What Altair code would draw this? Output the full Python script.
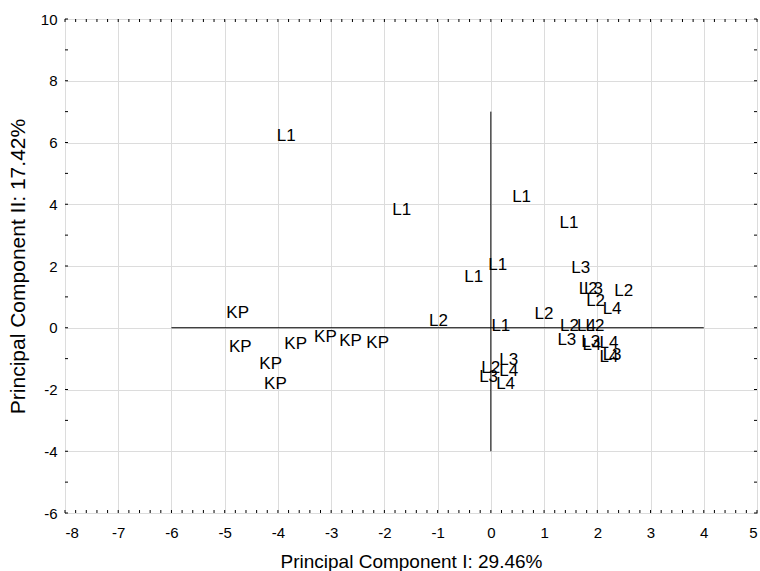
import altair as alt
import pandas as pd
import numpy as np

labels = ["KP"] * 8 + ["L1"] * 7 + ["L2"] * 8 + ["L3"] * 7 + ["L4"] * 7
xs = [-4.97, -4.92, -3.88, -3.32, -2.85, -2.34, -4.35, -4.26,
      -4.02, -1.85, 0.40, 1.29, -0.05, -0.50, 0.01,
      1.65, 2.32, 1.79, 0.82, 1.30, 1.78, -1.16, -0.18,
      1.51, 1.75, 1.25, 1.70, 2.10, 0.16, -0.22,
      2.10, 1.62, 1.72, 2.04, 2.04, 0.16, 0.10]
ys = [0.48, -0.61, -0.54, -0.29, -0.42, -0.48, -1.19, -1.83,
      6.20, 3.80, 4.22, 3.39, 2.03, 1.64, 0.06,
      1.26, 1.20, 0.87, 0.45, 0.05, 0.05, 0.22, -1.30,
      1.93, 1.26, -0.39, -0.46, -0.87, -1.05, -1.60,
      0.61, 0.05, -0.56, -0.51, -0.95, -1.40, -1.83]

x_major = list(range(-8, 6))
y_major = list(range(-6, 11, 2))
x_minor = [round(v, 1) for v in np.arange(-8, 5.01, 0.2)]
y_minor = list(range(-6, 11))

W, H = 692, 494
FONT = "Liberation Sans"

xs_scale = alt.Scale(domain=[-8, 5], nice=False, zero=False)
ys_scale = alt.Scale(domain=[-6, 10], nice=False, zero=False)

pts = pd.DataFrame({"label": labels, "x": xs, "y": ys})

base_axes = alt.Chart(pts).mark_point(opacity=0).encode(
    x=alt.X("x:Q", scale=xs_scale,
            axis=alt.Axis(values=x_major, title="Principal Component I: 29.46%",
                          labelExpr="'' + datum.value",
                          grid=True, gridColor="#dcdcdc", domain=False, ticks=False,
                          labelFont=FONT, labelFontSize=15, labelColor="black",
                          labelPadding=12, titleFont=FONT, titleFontSize=19,
                          titleFontWeight="normal", titleColor="black",
                          titleBaseline="middle", titleY=48)),
    y=alt.Y("y:Q", scale=ys_scale,
            axis=alt.Axis(values=y_major, title="Principal Component II: 17.42%",
                          labelExpr="'' + datum.value",
                          grid=True, gridColor="#dcdcdc", domain=False, ticks=False,
                          labelFont=FONT, labelFontSize=15, labelColor="black",
                          labelPadding=8, titleFont=FONT, titleFontSize=21,
                          titleFontWeight="normal", titleColor="black",
                          titleBaseline="middle", titleX=-47)),
)

text = alt.Chart(pts).mark_text(align="left", baseline="middle", font=FONT,
                                fontSize=17, color="black").encode(
    x=alt.X("x:Q", scale=xs_scale), y=alt.Y("y:Q", scale=ys_scale), text="label:N")

hline = alt.Chart(pd.DataFrame({"x": [-6], "x2": [4], "y": [0]})).mark_rule(
    color="black", strokeWidth=1).encode(
    x=alt.X("x:Q", scale=xs_scale), x2="x2:Q", y=alt.Y("y:Q", scale=ys_scale))
vline = alt.Chart(pd.DataFrame({"x": [0], "y": [-4], "y2": [7]})).mark_rule(
    color="black", strokeWidth=1).encode(
    x=alt.X("x:Q", scale=xs_scale), y=alt.Y("y:Q", scale=ys_scale), y2="y2:Q")

xt = pd.DataFrame({"x": x_minor})
ticks_bottom = alt.Chart(xt).mark_rule(color="black", strokeWidth=1).encode(
    x=alt.X("x:Q", scale=xs_scale), y=alt.value(H), y2=alt.value(H - 3))
ticks_top = alt.Chart(xt).mark_rule(color="black", strokeWidth=1).encode(
    x=alt.X("x:Q", scale=xs_scale), y=alt.value(0), y2=alt.value(3))
yt = pd.DataFrame({"y": y_minor})
ticks_left = alt.Chart(yt).mark_rule(color="black", strokeWidth=1).encode(
    y=alt.Y("y:Q", scale=ys_scale), x=alt.value(0), x2=alt.value(3))
ticks_right = alt.Chart(yt).mark_rule(color="black", strokeWidth=1).encode(
    y=alt.Y("y:Q", scale=ys_scale), x=alt.value(W), x2=alt.value(W - 3))

chart = alt.layer(base_axes, hline, vline, ticks_bottom, ticks_top, ticks_left,
                  ticks_right, text).properties(
    width=W, height=H,
    autosize=alt.AutoSizeParams(type="none"),
    padding={"left": 65, "top": 19, "right": 3, "bottom": 58},
    background="white",
).configure_view(stroke="black", strokeWidth=1)

chart.save("out.html", embed_options={"renderer": "svg", "actions": False})
